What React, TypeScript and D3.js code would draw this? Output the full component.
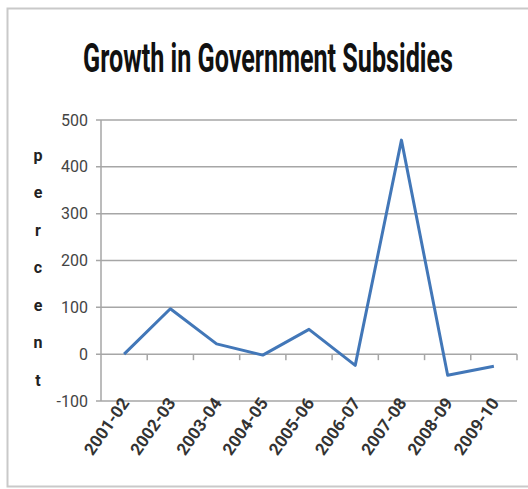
import React, { useLayoutEffect, useRef, useState } from "react";
import * as d3 from "d3";

const categories = ["2001-02", "2002-03", "2003-04", "2004-05", "2005-06", "2006-07", "2007-08", "2008-09", "2009-10"];
const growth = [0, 97, 22, -2, 53, -24, 457, -45, -26];
const yTicks = [-100, 0, 100, 200, 300, 400, 500];
const axisTitle = ["p", "e", "r", "c", "e", "n", "t"];
const title = "Growth in Government Subsidies";

export default function App() {
  const W = 528, H = 489;
  const left = 101, right = 517, top = 120, bottom = 401;
  const x = d3.scaleBand<string>().domain(categories).range([left, right]);
  const y = d3.scaleLinear().domain([-100, 500]).range([bottom, top]);
  const line = d3.line<number>()
    .x((_, i) => (x(categories[i]) as number) + x.bandwidth() / 2)
    .y((d) => y(d));
  const y0 = y(0);
  const tickXs = categories.map((c) => (x(c) as number) + x.bandwidth());

  const titleRef = useRef<SVGTextElement>(null);
  const [sx, setSx] = useState(0.7);
  useLayoutEffect(() => {
    if (titleRef.current) {
      const w = titleRef.current.getComputedTextLength();
      if (w > 0) setSx(370 / w);
    }
  }, []);

  return (
    <svg width={W} height={H} style={{ position: "absolute", left: 0, top: 0, background: "#fff" }}>
      <rect x={7.5} y={8.5} width={540} height={478} fill="#fff" stroke="#c9c9c9" strokeWidth={2} />
      <g transform={`translate(268,72) scale(${sx},1)`}>
        <text ref={titleRef} x={0} y={0} textAnchor="middle" fontFamily="'Liberation Sans Narrow', Roboto, sans-serif" fontSize={40} fontWeight="bold" fill="#111">{title}</text>
      </g>
      {axisTitle.map((ch, i) => (
        <text key={i} x={38} y={155 + i * 37.5} dy="0.35em" textAnchor="middle" fontFamily="Roboto, sans-serif" fontSize={16} fontWeight="bold" fill="#222">{ch}</text>
      ))}
      {yTicks.map((t) => (
        <g key={t}>
          <line x1={96} x2={right} y1={y(t)} y2={y(t)} stroke="#a6a6a6" strokeWidth={1.5} />
          <text x={88} y={y(t)} dy="0.35em" textAnchor="end" fontFamily="'Liberation Sans Narrow', Roboto, sans-serif" fontSize={16} fill="#444">{t}</text>
        </g>
      ))}
      <line x1={left} x2={left} y1={top} y2={bottom} stroke="#a6a6a6" strokeWidth={1.5} />
      {tickXs.map((tx, i) => (
        <line key={i} x1={tx} x2={tx} y1={y0} y2={y0 + 6} stroke="#a6a6a6" strokeWidth={1.5} />
      ))}
      <path d={line(growth) || ""} fill="none" stroke="#4277b8" strokeWidth={3} strokeLinejoin="round" />
      {categories.map((c) => {
        const cx = (x(c) as number) + x.bandwidth() / 2 + 6;
        const cy = 403;
        return (
          <text key={c} x={cx} y={cy} textAnchor="end" transform={`rotate(-55 ${cx} ${cy})`} fontFamily="'Liberation Sans Narrow', Roboto, sans-serif" fontSize={17} fontWeight="bold" fill="#333">{c}</text>
        );
      })}
    </svg>
  );
}
